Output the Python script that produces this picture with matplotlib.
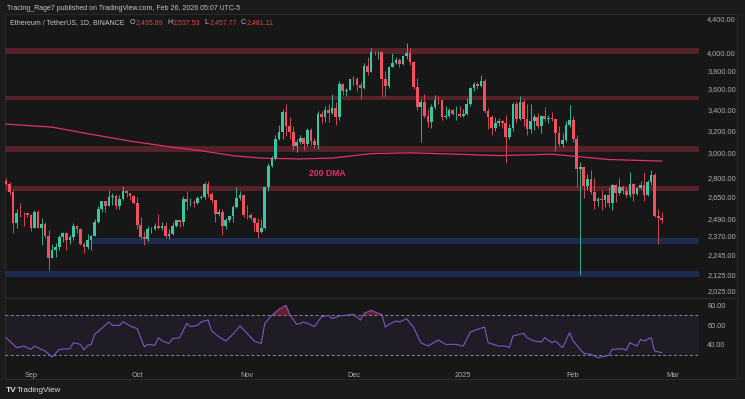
import matplotlib
matplotlib.use("Agg")
import matplotlib.pyplot as plt
import matplotlib.dates as mdates
from matplotlib.patches import Rectangle
from matplotlib.lines import Line2D
from matplotlib.ticker import FixedLocator, NullLocator
import numpy as np
import pandas as pd

plt.rcParams['font.family'] = ['Liberation Sans', 'DejaVu Sans']

# ---------------- data (ETH/USDT daily, Binance) ----------------
start_date = "2024-08-25"

opens_aug = [2768, 2747, 2682, 2458, 2528, 2527, 2526]
highs_aug = [2792, 2762, 2700, 2555, 2599, 2535, 2531]
lows_aug = [2734, 2665, 2392, 2422, 2502, 2437, 2502]
closes_aug = [2747, 2682, 2458, 2528, 2527, 2526, 2513]

opens_sep = [2513, 2426, 2538, 2424, 2451, 2368, 2226, 2273, 2297, 2359, 2388, 2340, 2361, 2440, 2418,
             2316, 2294, 2339, 2371, 2465, 2561, 2614, 2582, 2646, 2653, 2580, 2631, 2696, 2676, 2658]
highs_sep = [2525, 2552, 2553, 2491, 2465, 2409, 2315, 2323, 2372, 2393, 2395, 2378, 2460, 2445, 2424,
             2330, 2385, 2373, 2487, 2579, 2616, 2619, 2702, 2674, 2671, 2665, 2728, 2702, 2678, 2664]
lows_sep = [2402, 2423, 2420, 2310, 2353, 2150, 2222, 2232, 2273, 2328, 2276, 2313, 2339, 2392, 2308,
            2255, 2281, 2277, 2367, 2457, 2535, 2539, 2578, 2590, 2555, 2561, 2628, 2649, 2624, 2592]
closes_sep = [2426, 2538, 2424, 2451, 2368, 2226, 2273, 2297, 2359, 2388, 2340, 2361, 2440, 2418, 2316,
              2294, 2339, 2371, 2465, 2561, 2614, 2582, 2646, 2653, 2580, 2631, 2696, 2676, 2658, 2602]

opens_oct = [2602, 2447, 2363, 2350, 2414, 2415, 2440, 2423, 2440, 2370, 2385, 2439, 2476, 2467, 2629, 2607,
             2611, 2604, 2642, 2648, 2747, 2666, 2621, 2525, 2535, 2439, 2481, 2507, 2569, 2639, 2659]
highs_oct = [2645, 2498, 2403, 2440, 2428, 2455, 2521, 2467, 2468, 2417, 2464, 2480, 2481, 2658, 2689, 2640,
             2625, 2652, 2661, 2759, 2769, 2681, 2624, 2561, 2560, 2490, 2509, 2585, 2720, 2694, 2672]
lows_oct = [2415, 2349, 2310, 2337, 2390, 2406, 2413, 2408, 2355, 2350, 2375, 2428, 2433, 2440, 2550, 2581,
            2573, 2598, 2630, 2634, 2645, 2600, 2464, 2506, 2375, 2417, 2465, 2462, 2565, 2628, 2500]
closes_oct = [2447, 2363, 2350, 2414, 2415, 2440, 2423, 2440, 2370, 2385, 2439, 2476, 2467, 2629, 2607, 2611,
              2604, 2642, 2648, 2747, 2666, 2621, 2525, 2535, 2439, 2481, 2507, 2569, 2639, 2659, 2518]

opens_nov = [2518, 2512, 2494, 2457, 2398, 2422, 2721, 2895, 2962, 3125, 3183, 3372, 3243, 3187, 3061,
             3092, 3130, 3075, 3208, 3107, 3071, 3357, 3327, 3393, 3362, 3415, 3325, 3657, 3580, 3590]
highs_nov = [2584, 2528, 2497, 2490, 2484, 2722, 2915, 2978, 3162, 3248, 3397, 3448, 3323, 3239, 3125,
             3159, 3143, 3219, 3224, 3129, 3384, 3377, 3427, 3450, 3551, 3468, 3679, 3658, 3615, 3708]
lows_nov = [2483, 2477, 2400, 2357, 2390, 2413, 2695, 2883, 2938, 3113, 3121, 3148, 3119, 3026, 3013,
            3078, 3030, 3060, 3071, 3040, 3031, 3269, 3281, 3278, 3353, 3251, 3300, 3544, 3533, 3586]
closes_nov = [2512, 2494, 2457, 2398, 2422, 2721, 2895, 2962, 3125, 3183, 3372, 3243, 3187, 3061, 3092,
              3130, 3075, 3208, 3107, 3071, 3357, 3327, 3393, 3362, 3415, 3325, 3657, 3580, 3590, 3704]

opens_dec = [3704, 3707, 3642, 3614, 3839, 3784, 4001, 3995, 4005, 3708, 3628, 3833, 3880, 3906, 3869, 3959,
             3986, 3890, 3626, 3418, 3469, 3330, 3281, 3422, 3492, 3486, 3329, 3331, 3395, 3352, 3357]
highs_dec = [3738, 3727, 3670, 3872, 3939, 4050, 4016, 4009, 4010, 3795, 3845, 3992, 3949, 3933, 3967, 4107,
             4049, 3904, 3713, 3504, 3551, 3400, 3453, 3540, 3526, 3493, 3434, 3414, 3405, 3427, 3426]
lows_dec = [3643, 3581, 3500, 3600, 3752, 3774, 3964, 3924, 3518, 3515, 3608, 3832, 3864, 3835, 3855, 3923,
            3852, 3605, 3390, 3100, 3311, 3228, 3218, 3399, 3448, 3296, 3306, 3328, 3339, 3300, 3320]
closes_dec = [3707, 3642, 3614, 3839, 3784, 4001, 3995, 4005, 3708, 3628, 3833, 3880, 3906, 3869, 3959, 3986,
              3890, 3626, 3418, 3469, 3330, 3281, 3422, 3492, 3486, 3329, 3331, 3395, 3352, 3357, 3332]

opens_jan = [3332, 3354, 3451, 3606, 3656, 3635, 3686, 3380, 3326, 3218, 3267, 3284, 3266, 3136, 3225, 3451,
             3308, 3474, 3306, 3212, 3283, 3326, 3240, 3337, 3307, 3318, 3305, 3180, 3075, 3111, 3249]
highs_jan = [3405, 3508, 3622, 3671, 3675, 3745, 3703, 3413, 3348, 3320, 3311, 3297, 3340, 3258, 3473, 3475,
             3525, 3495, 3450, 3450, 3357, 3358, 3347, 3425, 3346, 3370, 3310, 3239, 3174, 3283, 3436]
lows_jan = [3320, 3344, 3432, 3580, 3600, 3622, 3358, 3210, 3155, 3190, 3243, 3222, 2920, 3124, 3198, 3265,
            3300, 3240, 3158, 3180, 3204, 3225, 3180, 3285, 3264, 3290, 3020, 3061, 3054, 3097, 3235]
closes_jan = [3354, 3451, 3606, 3656, 3635, 3686, 3380, 3326, 3218, 3267, 3284, 3266, 3136, 3225, 3451, 3308,
              3474, 3306, 3212, 3283, 3326, 3240, 3337, 3307, 3318, 3305, 3180, 3075, 3111, 3249, 3298]

opens_feb = [3298, 3125, 2869, 2880, 2734, 2786, 2686, 2620, 2632, 2627, 2660, 2601, 2737, 2676, 2725,
             2693, 2662, 2744, 2671, 2714, 2739, 2662, 2765, 2815, 2505, 2495.89]
highs_feb = [3330, 3162, 2923, 2895, 2826, 2858, 2794, 2650, 2700, 2668, 2720, 2744, 2745, 2793, 2735,
             2720, 2846, 2753, 2725, 2770, 2846, 2781, 2855, 2832, 2555, 2537.53]
lows_feb = [3100, 2722, 2120, 2640, 2700, 2667, 2560, 2581, 2550, 2570, 2570, 2550, 2608, 2664, 2667,
            2650, 2650, 2618, 2660, 2705, 2620, 2658, 2742, 2498, 2315, 2457.77]
closes_feb = [3125, 2869, 2880, 2734, 2786, 2686, 2620, 2632, 2627, 2660, 2601, 2737, 2676, 2725, 2693,
              2662, 2744, 2671, 2714, 2739, 2662, 2765, 2815, 2505, 2496, 2481.11]

# 200-day moving average (day offset from start, value)
dma_days = [0, 13, 22, 35, 46, 55, 64, 72, 83, 92, 103, 114, 125, 139, 154, 162, 170, 185]
dma_vals = [3258, 3230, 3176, 3104, 3054, 3020, 2977, 2957, 2950, 2957, 2995, 3002, 2992, 2978, 2990,
            2968, 2945, 2932]

# RSI(14) (day offset from start, value)
rsi_days = [0, 3, 5, 7, 8, 11, 13, 15, 18, 19, 21, 22, 23, 24, 25, 27, 29, 30, 32, 33, 35, 37, 39, 40, 42,
            43, 44, 46, 47, 49, 51, 52, 54, 55, 57, 58, 60, 62, 64, 66, 68, 70, 72, 73, 75, 77, 79, 80, 82,
            84, 85, 87, 89, 91, 92, 94, 98, 100, 101, 103, 105, 106, 107, 108, 110, 111, 113, 115, 117, 119,
            122, 124, 127, 129, 131, 133, 135, 136, 139, 141, 142, 143, 146, 147, 149, 151, 152, 154, 155,
            157, 159, 160, 163, 165, 167, 170, 171, 174, 175, 176, 178, 179, 180, 182, 183, 184, 185]
rsi_vals = [47.3, 37.1, 38.8, 35.4, 38.8, 33.7, 27.6, 35.4, 36.1, 42.2, 40.5, 34.7, 39.5, 40.5, 50.7, 56.8,
            63.2, 59.8, 59.8, 63.6, 59.2, 56.4, 38.1, 40.5, 39.5, 47.3, 43.9, 41.5, 46.3, 47.3, 61.9, 58.5,
            59.8, 63.2, 65.3, 54.1, 48.3, 43.9, 50.7, 59.2, 51.7, 43.9, 41.5, 61.9, 70.0, 76.1, 80.2, 71.0,
            60.8, 63.2, 61.9, 58.5, 68.6, 70.0, 66.6, 69.3, 71.0, 65.3, 72.0, 75.1, 72.0, 71.0, 58.1, 60.8,
            64.2, 63.2, 66.6, 57.5, 42.2, 38.8, 44.9, 40.5, 40.5, 38.8, 53.1, 55.8, 58.1, 42.2, 38.8, 38.8,
            37.1, 49.0, 51.7, 47.3, 43.9, 42.9, 47.3, 42.2, 43.9, 37.1, 52.4, 43.9, 31.4, 30.3, 27.0, 29.3,
            35.4, 36.1, 34.7, 42.2, 38.8, 45.6, 43.9, 47.3, 33.5, 33.0, 32.0]

# horizontal zones (low, high)
red_zones = [(3977, 4046), (3487, 3530), (3010, 3062), (2694, 2733)]
blue_zones = [(2315, 2355, "2024-09-18"), (2107, 2143, None)]

price_ticks = [2025, 2125, 2245, 2370, 2490, 2650, 2800, 3000, 3200, 3400, 3600, 3800, 4000, 4400]
rsi_ticks = [40, 60, 80]
month_ticks = ["2024-09-01", "2024-10-01", "2024-11-01", "2024-12-01", "2025-01-01", "2025-02-01", "2025-03-01"]
month_labels = ["Sep", "Oct", "Nov", "Dec", "2025", "Feb", "Mar"]

header_line = "Tracing_Rage7 published on TradingView.com, Feb 26, 2026 05:07 UTC-5"
symbol_line = "Ethereum / TetherUS, 1D, BINANCE"
ohlc_labels = ["O", "H", "L", "C"]
ohlc_values = ["2,495.89", "2,537.53", "2,457.77", "2,481.11"]

opens = np.array(opens_aug + opens_sep + opens_oct + opens_nov + opens_dec + opens_jan + opens_feb, float)
highs = np.array(highs_aug + highs_sep + highs_oct + highs_nov + highs_dec + highs_jan + highs_feb, float)
lows = np.array(lows_aug + lows_sep + lows_oct + lows_nov + lows_dec + lows_jan + lows_feb, float)
closes = np.array(closes_aug + closes_sep + closes_oct + closes_nov + closes_dec + closes_jan + closes_feb, float)

t0 = mdates.date2num(pd.Timestamp(start_date))
x = t0 + np.arange(len(closes))

# ---------------- style ----------------
W, H = 745, 399
BG_OUT = '#1b1b1b'
BG_IN = '#171717'
UP = '#38c6a3'
DOWN = '#f0505f'
RED_ZONE = '#55222a'
BLUE_ZONE = '#1e2b50'
DMA_C = '#e0306a'
RSI_C = '#7e57c2'
TXT = '#a9acb5'
HDR = '#c3c5cc'

fig = plt.figure(figsize=(W / 100, H / 100), dpi=100, facecolor=BG_OUT)

def fx(px):
    return px / W

def fy(py):
    return 1 - py / H

# frame
fig.add_artist(Rectangle((fx(5), fy(379)), fx(737) - fx(5), fy(14) - fy(379), transform=fig.transFigure,
                         facecolor=BG_IN, edgecolor='#2a2a2a', lw=0.8, zorder=0))

ax = fig.add_axes([fx(5), fy(298), fx(699) - fx(5), fy(14) - fy(298)], facecolor='none')
axr = fig.add_axes([fx(5), fy(362), fx(699) - fx(5), fy(298) - fy(362)], facecolor='none', sharex=ax)

xmin, xmax = t0 - 0.3, t0 + 195.5

# ---------------- main price pane ----------------
ax.set_yscale('log')
ax.set_ylim(1985, 4458)
ax.set_xlim(xmin, xmax)

for lo, hi in red_zones:
    ax.axhspan(lo, hi, color=RED_ZONE, lw=0, zorder=1)
for lo, hi, d in blue_zones:
    if d is None:
        ax.axhspan(lo, hi, color=BLUE_ZONE, lw=0, zorder=1)
    else:
        xs = mdates.date2num(pd.Timestamp(d))
        ax.fill_between([xs, xmax], lo, hi, color=BLUE_ZONE, lw=0, zorder=1)

up = closes >= opens
colors = np.where(up, UP, DOWN)
ax.vlines(x, lows, highs, colors=colors, lw=0.6, zorder=3)
body_lo = np.minimum(opens, closes)
body_h = np.maximum(np.abs(closes - opens), 3)
ax.bar(x, body_h, bottom=body_lo, width=0.76, color=colors, lw=0, zorder=4)

ax.plot(t0 + np.array(dma_days), dma_vals, color=DMA_C, lw=0.9, zorder=2)
ax.text(t0 + 90.5, 2833, "200 DMA", color=DMA_C, fontsize=6.2, fontweight='bold', ha='center', va='center', zorder=5)

ax.yaxis.tick_right()
ax.yaxis.set_major_locator(FixedLocator(price_ticks))
ax.yaxis.set_minor_locator(NullLocator())
ax.set_yticklabels([f"{v:,.2f}" for v in price_ticks])
ax.tick_params(axis='y', length=0, pad=6, labelsize=5.3, labelcolor=TXT)
ax.tick_params(axis='x', which='both', length=0, labelbottom=False)
for s in ax.spines.values():
    s.set_visible(False)

# ---------------- RSI pane ----------------
axr.set_ylim(22.6, 87.6)
rx = t0 + np.array(rsi_days)
rv = np.array(rsi_vals)
axr.fill_between([xmin, xmax], 30, 70, color=RSI_C, alpha=0.09, lw=0, zorder=1)
axr.axhline(70, color='#8a8a95', lw=0.7, ls=(0, (3, 2.5)), zorder=2)
axr.axhline(30, color='#8a8a95', lw=0.7, ls=(0, (3, 2.5)), zorder=2)
axr.fill_between(rx, 70, rv, where=rv > 70, interpolate=True, color='#b0233f', alpha=0.55, lw=0, zorder=2)
axr.plot(rx, rv, color=RSI_C, lw=0.8, zorder=3)

axr.yaxis.tick_right()
axr.set_yticks(rsi_ticks)
axr.set_yticklabels([f"{v:.2f}" for v in rsi_ticks])
axr.tick_params(axis='y', length=0, pad=6, labelsize=5.3, labelcolor=TXT)
axr.set_xticks([mdates.date2num(pd.Timestamp(d)) for d in month_ticks])
axr.set_xticklabels(month_labels)
axr.tick_params(axis='x', length=0, pad=7, labelsize=5.3, labelcolor=TXT)
axr.set_xlim(xmin, xmax)
for s in axr.spines.values():
    s.set_visible(False)

# separators
fig.add_artist(Line2D([fx(5), fx(737)], [fy(298), fy(298)], transform=fig.transFigure, color='#2a2a2a', lw=0.8))

# ---------------- header / footer text ----------------
fig.text(fx(7), fy(8), header_line, fontsize=5.0, color=HDR, va='center', ha='left')

fig.canvas.draw()
renderer = fig.canvas.get_renderer()
hy = fy(23)

def put(px, s, color, gap):
    t = fig.text(fx(px), hy, s, fontsize=5.0, color=color, va='center', ha='left')
    bb = t.get_window_extent(renderer)
    return bb.x1 + gap

cur = put(10, symbol_line, HDR, 5)
for lab, val in zip(ohlc_labels, ohlc_values):
    cur = put(cur, lab, HDR, 0.6)
    cur = put(cur, val, '#e0404f', 4)

fig.text(fx(6), fy(390), "TV", fontsize=6, color='#d9dbe0', fontweight='bold', va='center')
fig.text(fx(17), fy(390), "TradingView", fontsize=5.8, color='#d9dbe0', va='center')

fig.savefig("out.png", dpi=100, facecolor=BG_OUT)
